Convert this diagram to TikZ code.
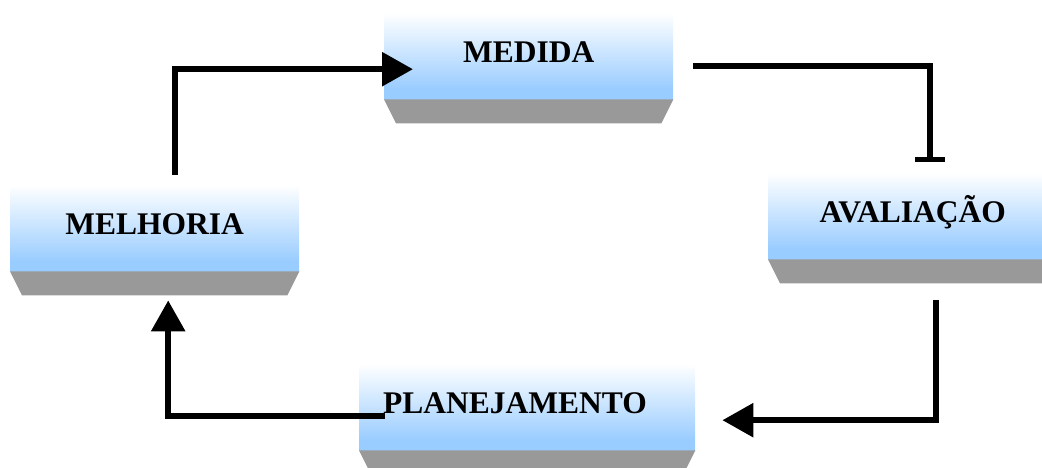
\documentclass[tikz,border=0pt]{standalone}
\usepackage{fontspec}
\setmainfont{Liberation Serif}
\usetikzlibrary{arrows.meta,calc}
\definecolor{boxblue}{HTML}{99CCFF}
\definecolor{shadowgray}{HTML}{999999}
% light blue at the bottom, fading to white at the top
\pgfdeclareverticalshading{boxfade}{100bp}{color(0bp)=(boxblue); color(30bp)=(boxblue); color(70bp)=(white); color(100bp)=(white)}
\begin{document}
\begin{tikzpicture}[x=1pt,y=-1pt,
  panel/.style={rectangle, draw=none, shading=boxfade, minimum height=96pt,
    minimum width=289pt, inner sep=0pt, anchor=north west},
  caption/.style={font=\fontsize{31.5}{36}\selectfont\bfseries, inner sep=0pt, anchor=base},
  link/.style={line width=6pt, line join=miter},
  tip/.style={-{Triangle[length=31pt,width=33pt]}},
  stopbar/.style={-{Bar[width=30pt,line width=5pt]}}]
\useasboundingbox (0,0) rectangle (1042,468);
\clip (0,0) rectangle (1042,468);

% the four stages
\node[panel] (med) at (384,3) {};
\node[panel] (mel) at (10,175) {};
\node[panel] (ava) at (768,163) {};
\node[panel, minimum width=336pt] (pla) at (359,354) {};

% grey base under each stage
\foreach \b in {med,mel,ava,pla} {
  \fill[shadowgray] (\b.south west) -- (\b.south east)
    -- ([xshift=-12pt,yshift=-24pt]\b.south east)
    -- ([xshift=12pt,yshift=-24pt]\b.south west) -- cycle;
}

% stage names
\node[caption] (medtxt) at ([yshift=-11pt]med.center) {MEDIDA};
\node[caption] (meltxt) at ([yshift=-11pt]mel.center) {MELHORIA};
\node[caption] (avatxt) at ([yshift=-11pt]ava.center) {AVALIAÇÃO};
\node[caption, anchor=base west] (platxt) at ([xshift=24pt,yshift=-11pt]pla.west) {PLANEJAMENTO};

% the cycle
\draw[link,tip] ([xshift=165pt]mel.north west) |- ([xshift=29pt,yshift=-18pt]med.west);
\draw[link,stopbar] ([xshift=20pt,yshift=-15pt]med.east) -| ([xshift=17pt,yshift=1pt]ava.north);
\draw[link,tip] ([xshift=23pt,yshift=-41pt]ava.south) |- ([xshift=27pt,yshift=-18pt]pla.east);
\draw[link,tip] ([xshift=26pt,yshift=-14pt]pla.west) -| ([xshift=13.5pt,yshift=-29pt]mel.south);
\end{tikzpicture}
\end{document}
